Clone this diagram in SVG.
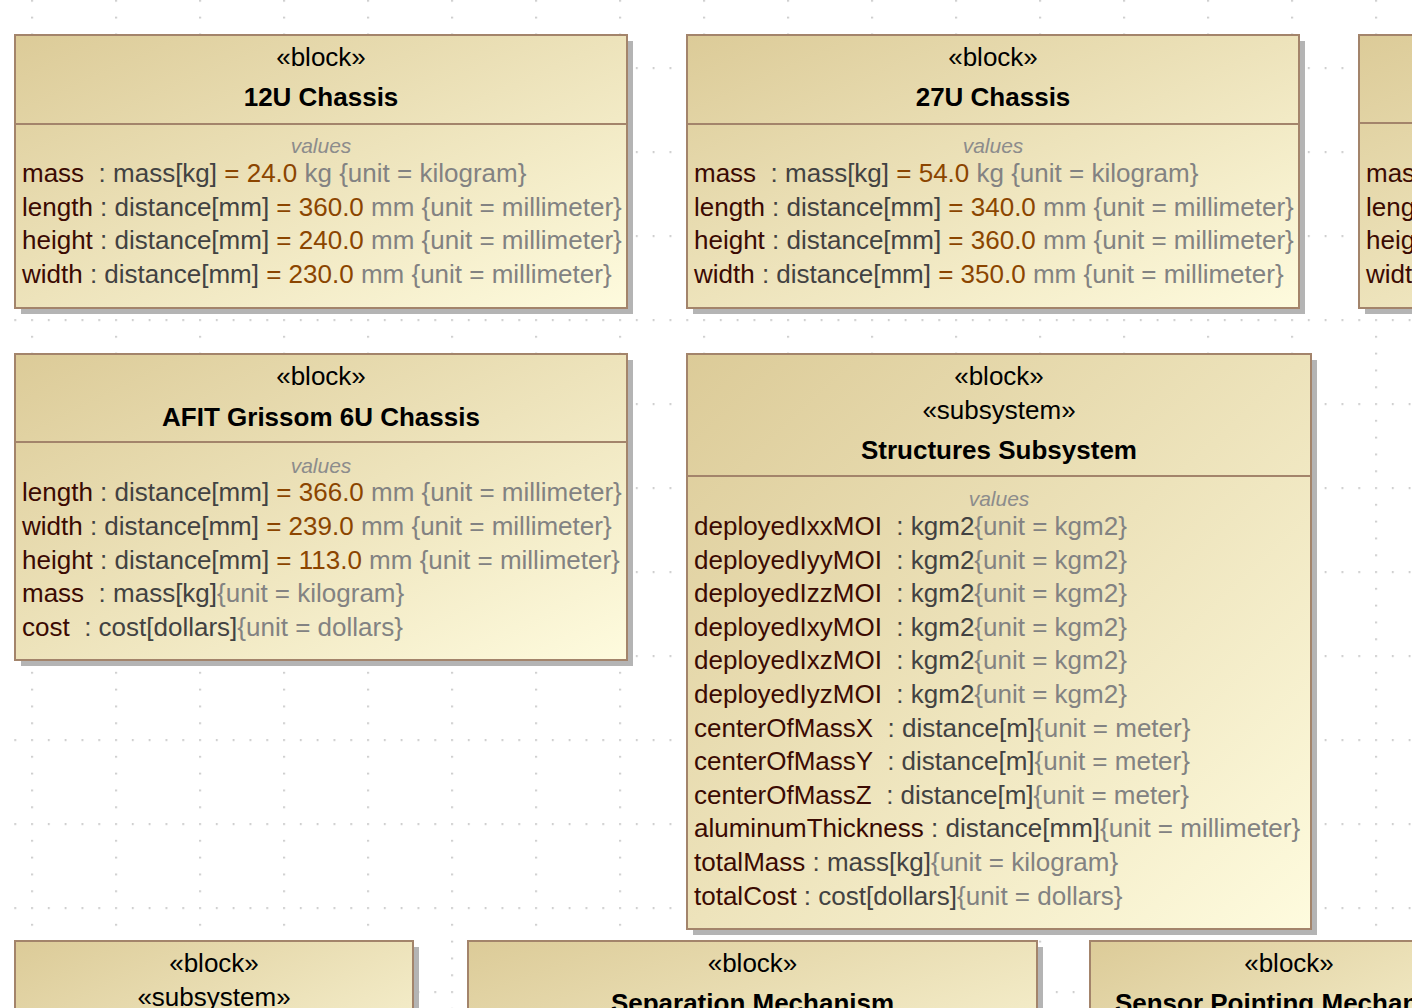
<svg xmlns="http://www.w3.org/2000/svg" width="1412" height="1008" viewBox="0 0 1412 1008">
<defs>
<linearGradient id="g" x1="0" y1="0" x2="1" y2="1">
<stop offset="0" stop-color="#dccb98"/>
<stop offset="1" stop-color="#fefbde"/>
</linearGradient>
<pattern id="grid" patternUnits="userSpaceOnUse" x="31.4" y="67.4" width="84" height="84">
<rect x="0" y="0" width="1.3" height="1.3" fill="#8a8a8a"/>
<rect x="16.8" y="0" width="1.3" height="1.3" fill="#8a8a8a"/>
<rect x="33.6" y="0" width="1.3" height="1.3" fill="#8a8a8a"/>
<rect x="50.4" y="0" width="1.3" height="1.3" fill="#8a8a8a"/>
<rect x="67.2" y="0" width="1.3" height="1.3" fill="#8a8a8a"/>
<rect x="0" y="16.8" width="1.3" height="1.3" fill="#8a8a8a"/>
<rect x="0" y="33.6" width="1.3" height="1.3" fill="#8a8a8a"/>
<rect x="0" y="50.4" width="1.3" height="1.3" fill="#8a8a8a"/>
<rect x="0" y="67.2" width="1.3" height="1.3" fill="#8a8a8a"/>
</pattern>
</defs>
<style>
text{font-family:"Liberation Sans",Arial,Helvetica,sans-serif;font-size:26px;}
.sh{fill:#b4b4b4;}
.box{fill:url(#g);stroke:#a3846b;stroke-width:2;}
.sep{stroke:#a3846b;stroke-width:2;}
.st{text-anchor:middle;fill:#000;}
.nm{text-anchor:middle;fill:#000;font-weight:bold;}
.vl{text-anchor:middle;fill:#8c8c8c;font-style:italic;font-size:21px;}
.n{fill:#3b0a02;}
.t{fill:#424242;}
.v{fill:#8b4500;}
.u{fill:#828282;}
</style>
<rect x="0" y="0" width="1412" height="1008" fill="#ffffff"/>
<rect x="0" y="0" width="1412" height="1008" fill="url(#grid)"/>

<g id="connectors"></g>

<g id="block-12u">
<rect class="sh" x="21" y="41" width="612" height="273"/>
<rect class="box" x="15" y="35" width="612" height="273"/>
<line class="sep" x1="15" y1="124" x2="627" y2="124"/>
<text class="st" x="321" y="65.5">«block»</text>
<text class="nm" x="321" y="106">12U Chassis</text>
<text class="vl" x="321" y="153">values</text>
<text x="22" y="182" xml:space="preserve"><tspan class="n">mass</tspan><tspan class="t">  : mass[kg]</tspan><tspan class="v"> = 24.0</tspan><tspan class="u"> kg {unit = kilogram}</tspan></text>
<text x="22" y="216" xml:space="preserve"><tspan class="n">length</tspan><tspan class="t"> : distance[mm]</tspan><tspan class="v"> = 360.0</tspan><tspan class="u"> mm {unit = millimeter}</tspan></text>
<text x="22" y="249" xml:space="preserve"><tspan class="n">height</tspan><tspan class="t"> : distance[mm]</tspan><tspan class="v"> = 240.0</tspan><tspan class="u"> mm {unit = millimeter}</tspan></text>
<text x="22" y="283" xml:space="preserve"><tspan class="n">width</tspan><tspan class="t"> : distance[mm]</tspan><tspan class="v"> = 230.0</tspan><tspan class="u"> mm {unit = millimeter}</tspan></text>
</g>

<g id="block-27u">
<rect class="sh" x="693" y="41" width="612" height="273"/>
<rect class="box" x="687" y="35" width="612" height="273"/>
<line class="sep" x1="687" y1="124" x2="1299" y2="124"/>
<text class="st" x="993" y="65.5">«block»</text>
<text class="nm" x="993" y="106">27U Chassis</text>
<text class="vl" x="993" y="153">values</text>
<text x="694" y="182" xml:space="preserve"><tspan class="n">mass</tspan><tspan class="t">  : mass[kg]</tspan><tspan class="v"> = 54.0</tspan><tspan class="u"> kg {unit = kilogram}</tspan></text>
<text x="694" y="216" xml:space="preserve"><tspan class="n">length</tspan><tspan class="t"> : distance[mm]</tspan><tspan class="v"> = 340.0</tspan><tspan class="u"> mm {unit = millimeter}</tspan></text>
<text x="694" y="249" xml:space="preserve"><tspan class="n">height</tspan><tspan class="t"> : distance[mm]</tspan><tspan class="v"> = 360.0</tspan><tspan class="u"> mm {unit = millimeter}</tspan></text>
<text x="694" y="283" xml:space="preserve"><tspan class="n">width</tspan><tspan class="t"> : distance[mm]</tspan><tspan class="v"> = 350.0</tspan><tspan class="u"> mm {unit = millimeter}</tspan></text>
</g>

<g id="block-right-partial">
<rect class="sh" x="1365" y="41" width="612" height="273"/>
<rect class="box" x="1359" y="35" width="612" height="273"/>
<line class="sep" x1="1359" y1="123" x2="1971" y2="123"/>
<text x="1366" y="182" class="n">mass</text>
<text x="1366" y="216" class="n">length</text>
<text x="1366" y="249" class="n">height</text>
<text x="1366" y="283" class="n">width</text>
</g>

<g id="block-afit">
<rect class="sh" x="21" y="360" width="612" height="306"/>
<rect class="box" x="15" y="354" width="612" height="306"/>
<line class="sep" x1="15" y1="442" x2="627" y2="442"/>
<text class="st" x="321" y="385">«block»</text>
<text class="nm" x="321" y="426">AFIT Grissom 6U Chassis</text>
<text class="vl" x="321" y="472.5">values</text>
<text x="22" y="501" xml:space="preserve"><tspan class="n">length</tspan><tspan class="t"> : distance[mm]</tspan><tspan class="v"> = 366.0</tspan><tspan class="u"> mm {unit = millimeter}</tspan></text>
<text x="22" y="535" xml:space="preserve"><tspan class="n">width</tspan><tspan class="t"> : distance[mm]</tspan><tspan class="v"> = 239.0</tspan><tspan class="u"> mm {unit = millimeter}</tspan></text>
<text x="22" y="569" xml:space="preserve"><tspan class="n">height</tspan><tspan class="t"> : distance[mm]</tspan><tspan class="v"> = 113.0</tspan><tspan class="u"> mm {unit = millimeter}</tspan></text>
<text x="22" y="602" xml:space="preserve"><tspan class="n">mass</tspan><tspan class="t">  : mass[kg]</tspan><tspan class="u">{unit = kilogram}</tspan></text>
<text x="22" y="636" xml:space="preserve"><tspan class="n">cost</tspan><tspan class="t">  : cost[dollars]</tspan><tspan class="u">{unit = dollars}</tspan></text>
</g>

<g id="block-structures">
<rect class="sh" x="693" y="360" width="624" height="575"/>
<rect class="box" x="687" y="354" width="624" height="575"/>
<line class="sep" x1="687" y1="476" x2="1311" y2="476"/>
<text class="st" x="999" y="385">«block»</text>
<text class="st" x="999" y="418.5">«subsystem»</text>
<text class="nm" x="999" y="459">Structures Subsystem</text>
<text class="vl" x="999" y="505.5">values</text>
<text x="694" y="535" xml:space="preserve"><tspan class="n">deployedIxxMOI</tspan><tspan class="t">  : kgm2</tspan><tspan class="u">{unit = kgm2}</tspan></text>
<text x="694" y="569" xml:space="preserve"><tspan class="n">deployedIyyMOI</tspan><tspan class="t">  : kgm2</tspan><tspan class="u">{unit = kgm2}</tspan></text>
<text x="694" y="602" xml:space="preserve"><tspan class="n">deployedIzzMOI</tspan><tspan class="t">  : kgm2</tspan><tspan class="u">{unit = kgm2}</tspan></text>
<text x="694" y="636" xml:space="preserve"><tspan class="n">deployedIxyMOI</tspan><tspan class="t">  : kgm2</tspan><tspan class="u">{unit = kgm2}</tspan></text>
<text x="694" y="669" xml:space="preserve"><tspan class="n">deployedIxzMOI</tspan><tspan class="t">  : kgm2</tspan><tspan class="u">{unit = kgm2}</tspan></text>
<text x="694" y="703" xml:space="preserve"><tspan class="n">deployedIyzMOI</tspan><tspan class="t">  : kgm2</tspan><tspan class="u">{unit = kgm2}</tspan></text>
<text x="694" y="737" xml:space="preserve"><tspan class="n">centerOfMassX</tspan><tspan class="t">  : distance[m]</tspan><tspan class="u">{unit = meter}</tspan></text>
<text x="694" y="770" xml:space="preserve"><tspan class="n">centerOfMassY</tspan><tspan class="t">  : distance[m]</tspan><tspan class="u">{unit = meter}</tspan></text>
<text x="694" y="804" xml:space="preserve"><tspan class="n">centerOfMassZ</tspan><tspan class="t">  : distance[m]</tspan><tspan class="u">{unit = meter}</tspan></text>
<text x="694" y="837" xml:space="preserve"><tspan class="n">aluminumThickness</tspan><tspan class="t"> : distance[mm]</tspan><tspan class="u">{unit = millimeter}</tspan></text>
<text x="694" y="871" xml:space="preserve"><tspan class="n">totalMass</tspan><tspan class="t"> : mass[kg]</tspan><tspan class="u">{unit = kilogram}</tspan></text>
<text x="694" y="905" xml:space="preserve"><tspan class="n">totalCost</tspan><tspan class="t"> : cost[dollars]</tspan><tspan class="u">{unit = dollars}</tspan></text>
</g>

<g id="block-bottom-left">
<rect class="sh" x="21" y="947" width="398" height="200"/>
<rect class="box" x="15" y="941" width="398" height="200"/>
<text class="st" x="214" y="971.5">«block»</text>
<text class="st" x="214" y="1005.5">«subsystem»</text>
</g>

<g id="block-separation">
<rect class="sh" x="474" y="947" width="569" height="200"/>
<rect class="box" x="468" y="941" width="569" height="200"/>
<text class="st" x="752.5" y="971.5">«block»</text>
<text class="nm" x="752.5" y="1012">Separation Mechanism</text>
</g>

<g id="block-sensor">
<rect class="sh" x="1096" y="947" width="398" height="200"/>
<rect class="box" x="1090" y="941" width="398" height="200"/>
<text class="st" x="1289" y="971.5">«block»</text>
<text class="nm" x="1289" y="1012">Sensor Pointing Mechanism</text>
</g>
</svg>
